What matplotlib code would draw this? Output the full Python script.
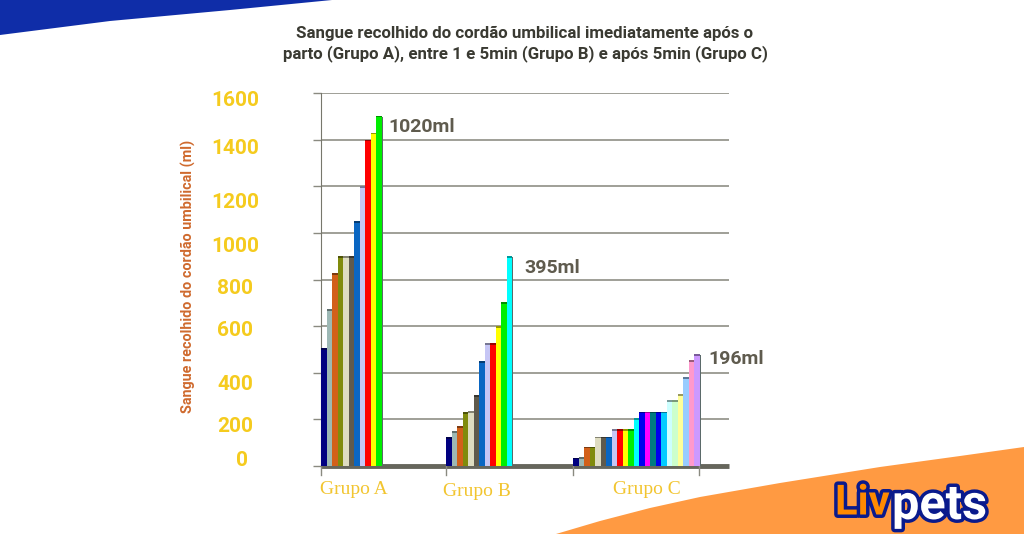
import numpy as np
import matplotlib.pyplot as plt
import matplotlib.patheffects as pe
from matplotlib.colors import to_rgb
from matplotlib.patches import Polygon

plt.rcParams['font.family'] = ['Roboto', 'DejaVu Sans']

title = "Sangue recolhido do cordão umbilical imediatamente após o\nparto (Grupo A), entre 1 e 5min (Grupo B) e após 5min (Grupo C)"
ylabel = "Sangue recolhido do cordão umbilical (ml)"
groups = ["Grupo A", "Grupo B", "Grupo C"]
y_ticks = [0, 200, 400, 600, 800, 1000, 1200, 1400, 1600]

grupo_a = [502, 670, 824, 897, 897, 897, 1047, 1197, 1395, 1425, 1498]
grupo_b = [120, 146, 167, 227, 232, 300, 446, 524, 524, 597, 700, 897]
grupo_c = [31, 34, 79, 79, 122, 122, 122, 153, 153, 153, 153, 200,
           229, 229, 229, 229, 229, 279, 279, 303, 376, 450, 476]
medians = ["1020ml", "395ml", "196ml"]

colors = ["#000080", "#9DB8B4", "#D2601A", "#808B0C", "#DEDCC0", "#5F5A4C",
          "#0A66C2", "#C6C6F5", "#FF0000", "#FFFF00", "#00EE00", "#00FFFF",
          "#0000EE", "#FF00FF", "#007B80", "#0000EE", "#00CCFF", "#CCFFFF",
          "#CCFFCC", "#FFFF99", "#99CCFF", "#FF99CC", "#CC99FF"]


def darker(c):
    return tuple(v * 0.6 for v in to_rgb(c))


fig = plt.figure(figsize=(10.24, 5.34), dpi=100)

# page decoration, in pixel coordinates
bg = fig.add_axes([0, 0, 1, 1])
bg.set_xlim(0, 1024)
bg.set_ylim(534, 0)
bg.axis("off")
bg.add_patch(Polygon([(0, 0), (332, 0), (230, 10), (110, 21), (0, 35)], color="#0F2DA8", lw=0))
bg.add_patch(Polygon([(556, 534), (600, 521), (650, 508), (700, 497), (780, 483), (880, 467),
                      (960, 456), (1024, 447), (1024, 534)], color="#FF9A42", lw=0))

# plot area 321..729 px wide, 93..466 px high
ax = fig.add_axes([321 / 1024, (534 - 466) / 534, 408 / 1024, 373 / 534], facecolor="none")
bar_w = 5.5
ax.set_xlim(0, 408)
ax.set_ylim(0, 1600)
for s in ["top", "right", "bottom"]:
    ax.spines[s].set_visible(False)
ax.spines["left"].set_color("#77776c")
ax.set_yticks(y_ticks)
ax.set_yticklabels([])
ax.set_xticks([])
ax.tick_params(axis="y", length=6, color="#8a8a80", width=1)
ax.set_axisbelow(True)
ax.grid(axis="y", color="#8f8f85", lw=1.2)
ax.axhline(0, color="#66665c", lw=3.5, zorder=1, clip_on=False, solid_capstyle="butt")

starts = [0, 125, 252]
for start, vals in zip(starts, [grupo_a, grupo_b, grupo_c]):
    x = start + np.arange(len(vals)) * bar_w
    cols = colors[:len(vals)]
    ax.bar(x, vals, width=bar_w, align="edge", color=cols, lw=0, zorder=3)
    # darker caps and side, the pseudo 3d look of the original
    ax.bar(x, [7] * len(vals), bottom=np.array(vals) - 3, width=bar_w, align="edge",
           color=[darker(c) for c in cols], lw=0, zorder=3)
    ax.bar(x[-1] + bar_w, vals[-1], width=1.4, align="edge", color="#5b6a6a", lw=0, zorder=3)
    ax.plot([x[0], x[0]], [0, -40], color="#8a8a80", lw=1, clip_on=False, zorder=2)
ax.plot([378, 378], [0, -40], color="#8a8a80", lw=1, clip_on=False, zorder=2)

# text layer
top = fig.add_axes([0, 0, 1, 1], facecolor="none")
top.set_xlim(0, 1024)
top.set_ylim(534, 0)
top.axis("off")
top.text(525, 44, title, ha="center", va="center", fontsize=12.2, fontweight="bold",
         color="#3a3a32", linespacing=1.35)
top.text(188, 276, ylabel, rotation=90, ha="center", va="center", fontsize=10.4,
         fontweight="bold", color="#CF6A2E")

tick_y = [460, 427, 384, 331, 289, 246, 202, 148, 100]
tick_x = [242, 235, 235, 235, 235, 235, 235, 235, 235]
for v, xp, yp in zip(y_ticks, tick_x, tick_y):
    top.text(xp, yp, str(v), ha="center", va="center", fontsize=15, fontweight="bold", color="#F5CB1E")

for name, xp, yp in zip(groups, [354, 477, 647], [490, 491, 490]):
    top.text(xp, yp, name, ha="center", va="center", fontsize=14, color="#F2C530",
             family="Liberation Serif")

for name, xp, yp in zip(medians, [388, 524, 708], [127, 268, 359]):
    top.text(xp, yp, name, ha="left", va="center", fontsize=14, fontweight="bold", color="#5F5B4E")

outline = [pe.withStroke(linewidth=5, foreground="#0A1A8C")]
top.text(835, 503, "Liv", ha="left", va="center", fontsize=30, fontweight="bold", color="#FF8A00",
         path_effects=outline)
top.text(892, 506, "pets", ha="left", va="center", fontsize=35, fontweight="bold", color="white",
         path_effects=outline)

fig.savefig("out.png", dpi=100)
